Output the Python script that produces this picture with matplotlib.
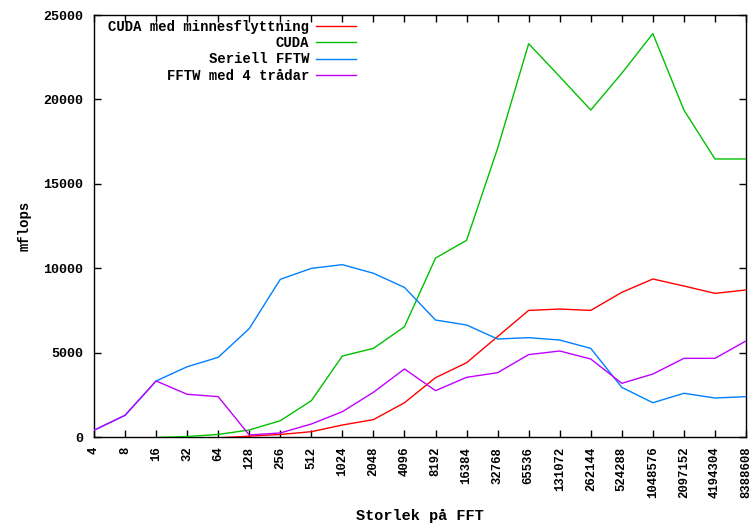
import numpy as np
import matplotlib
matplotlib.use("Agg")
import matplotlib.pyplot as plt

sizes = ["4", "8", "16", "32", "64", "128", "256", "512", "1024", "2048", "4096",
         "8192", "16384", "32768", "65536", "131072", "262144", "524288",
         "1048576", "2097152", "4194304", "8388608"]

nan = np.nan
cuda_mem = [nan, nan, nan, nan, -50, 50, 150, 315, 710, 1030, 2030, 3515, 4400,
            5950, 7500, 7580, 7500, 8570, 9360, 8945, 8510, 8710]
cuda = [nan, nan, -30, 30, 150, 415, 965, 2150, 4800, 5250, 6535, 10600, 11650,
        17100, 23300, 21350, 19370, 21550, 23900, 19370, 16470, 16470]
serial = [400, 1285, 3320, 4160, 4720, 6420, 9340, 9990, 10210, 9700, 8860, 6930,
          6635, 5805, 5885, 5745, 5250, 2940, 2030, 2590, 2310, 2390]
fftw4 = [400, 1285, 3320, 2530, 2390, 120, 240, 770, 1500, 2650, 4030, 2745,
         3535, 3810, 4880, 5095, 4620, 3180, 3730, 4660, 4660, 5690]

labels = ["CUDA med minnesflyttning", "CUDA", "Seriell FFTW", "FFTW med 4 trådar"]
colors = ["#ff0000", "#00c000", "#0080ff", "#c000ff"]

font = "Liberation Mono"

fig = plt.figure(figsize=(7.52, 5.27), dpi=100)
ax = fig.add_axes([94/752, 1-437/527, (746-94)/752, (437-15)/527])

x = np.arange(len(sizes))
for ys, lab, c in zip([cuda_mem, cuda, serial, fftw4], labels, colors):
    ax.plot(x, ys, color=c, lw=1.0, label=lab, zorder=3)

ax.set_xlim(0, len(sizes)-1)
ax.set_ylim(0, 25000)
ax.set_xticks(x)
ax.set_xticklabels(sizes, rotation=90, fontfamily=font, fontweight="bold", fontsize=8.8)
ax.set_yticks([0, 5000, 10000, 15000, 20000, 25000])
ax.set_yticklabels(["0", "5000", "10000", "15000", "20000", "25000"],
                   fontfamily=font, fontweight="bold", fontsize=9.6)
ax.tick_params(direction="in", length=5, width=1, top=True, right=True)
ax.tick_params(axis="x", pad=7)
ax.tick_params(axis="y", pad=8)
for s in ax.spines.values():
    s.set_linewidth(1.0)
    s.set_color("black")

ax.set_xlabel("Storlek på FFT", fontfamily=font, fontweight="bold", fontsize=11, labelpad=8)
ax.set_ylabel("mflops", fontfamily=font, fontweight="bold", fontsize=10, labelpad=8)

leg = ax.legend(loc="upper right", bbox_to_anchor=((356-94)/652, (437-20)/422),
                markerfirst=False, frameon=False, handlelength=2.9, handletextpad=0.45,
                labelspacing=0.16, borderaxespad=0, borderpad=0,
                prop={"family": font, "weight": "bold", "size": 10})

fig.savefig("out.png", dpi=100)
